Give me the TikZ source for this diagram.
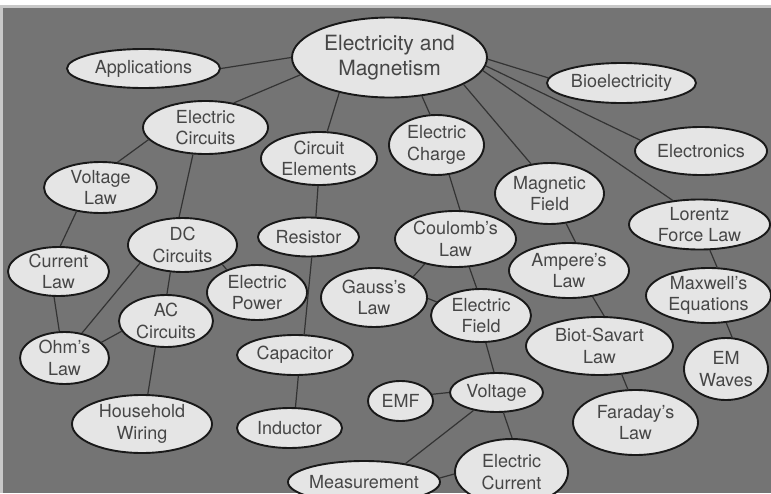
\documentclass[tikz,border=0pt]{standalone}
\usepackage{fontspec}
\setmainfont{TeX Gyre Heros}
\usetikzlibrary{shapes.geometric}
\definecolor{bgc}{HTML}{747474}
\definecolor{fillc}{HTML}{E5E5E5}
\definecolor{txtc}{HTML}{464646}
\definecolor{edgec}{HTML}{333333}
\definecolor{rimc}{HTML}{C8C8C8}
\newcommand\concept[6]{%
  \node[oval, minimum width=#4pt, minimum height=#5pt] (#1) at (#2,#3) {};
  \node[lbl] (#1-t) at (#1) {#6};}
\begin{document}
\begin{tikzpicture}[x=1pt,y=-1pt,
  oval/.style={ellipse, draw=black!90, line width=1.9pt, fill=fillc, inner sep=0pt},
  lbl/.style={text=txtc, align=center, inner sep=0pt, font=\fontsize{18}{21.5}\selectfont},
  titlelbl/.style={text=txtc, align=center, inner sep=0pt, font=\fontsize{21}{25.5}\selectfont},
  link/.style={draw=edgec, line width=1.2pt}]
\useasboundingbox (0,0) rectangle (771,493);
\clip (0,0) rectangle (771,493);
\fill[white] (0,0) rectangle (771,493);
\fill[rimc] (0,5) rectangle (771,493);
\fill[bgc] (3,7.5) rectangle (771,493);

\node[oval, minimum width=195pt, minimum height=80pt] (em) at (389.5,57.5) {};
\node[titlelbl] (em-t) at (em) {Electricity and\\Magnetism};
\concept{app}{143.5}{68.5}{153}{39}{Applications}
\concept{ec}{205.5}{127.5}{125}{53}{Electric\\Circuits}
\concept{ce}{319}{158.5}{116}{53}{Circuit\\Elements}
\concept{vl}{100.5}{187.5}{113}{51}{Voltage\\Law}
\concept{res}{308.5}{237}{101}{39}{Resistor}
\concept{dc}{182.5}{245}{109}{54}{DC\\Circuits}
\concept{bio}{621.5}{83}{149}{40}{Bioelectricity}
\concept{chg}{436.5}{145}{95}{60}{Electric\\Charge}
\concept{elx}{701}{151}{132}{48}{Electronics}
\concept{mf}{549.5}{193.5}{109}{61}{Magnetic\\Field}
\concept{lor}{699.5}{224.5}{141}{50}{Lorentz\\Force Law}
\concept{cou}{455.5}{239}{121}{56}{Coulomb's\\Law}
\concept{cl}{58.5}{271.5}{101}{49}{Current\\Law}
\concept{pow}{257}{292.5}{100}{55}{Electric\\Power}
\concept{gau}{374}{297.5}{106}{59}{Gauss's\\Law}
\concept{amp}{569}{270.5}{120}{55}{Ampere's\\Law}
\concept{max}{708.5}{295.5}{125}{55}{Maxwell's\\Equations}
\concept{ac}{166}{321}{94}{52}{AC\\Circuits}
\concept{ef}{481}{315.5}{100}{53}{Electric\\Field}
\concept{ohm}{64.5}{358}{89}{52}{Ohm's\\Law}
\concept{cap}{295}{355}{116}{40}{Capacitor}
\concept{bs}{599.5}{346}{147}{58}{Biot-Savart\\Law}
\concept{emw}{726}{369}{84}{62}{EM\\Waves}
\concept{emf}{400.5}{401}{65}{40}{EMF}
\concept{vol}{496.5}{392.5}{93}{39}{Voltage}
\concept{far}{635.5}{422.5}{125}{65}{Faraday's\\Law}
\concept{hw}{142}{424}{140}{58}{Household\\Wiring}
\concept{ind}{289.5}{428}{105}{40}{Inductor}
\concept{mea}{364}{482}{152}{42}{Measurement}
\concept{cur}{511.5}{472}{113}{66}{Electric\\Current}

\draw[link] (em.180) -- (app.0);
\draw[link] (em.191.7) -- (ec.41.7);
\draw[link] (em.215.2) -- (ce.73.2);
\draw[link] (em.310.3) -- (chg.102.2);
\draw[link] (em.340.6) -- (mf.122.3);
\draw[link] (em.359) -- (bio.176.9);
\draw[link] (em.355.6) -- (elx.170);
\draw[link] (em.352.5) -- (lor.138.6);
\draw[link] (ec.192) -- (vl.56.2);
\draw[link] (ec.245.3) -- (dc.97.5);
\draw[link] (ce.268.6) -- (res.70.8);
\draw[link] (chg.293.1) -- (cou.81.2);
\draw[link] (mf.299.4) -- (amp.77.7);
\draw[link] (lor.292.4) -- (max.73.2);
\draw[link] (max.303.2) -- (emw.79.1);
\draw[link] (amp.312.2) -- (bs.81.1);
\draw[link] (bs.308.7) -- (far.103.2);
\draw[link] (cou.219.5) -- (gau.28.3);
\draw[link] (cou.296.3) -- (ef.99.6);
\draw[link] (gau.359) -- (ef.163.3);
\draw[link] (ef.280.8) -- (vol.97.4);
\draw[link] (vol.180) -- (emf.12.3);
\draw[link] (vol.218.9) -- (mea.24);
\draw[link] (vol.289.8) -- (cur.89.7);
\draw[link] (mea.3.5) -- (cur.182);
\draw[link] (vl.225.3) -- (cl.86.3);
\draw[link] (cl.260.5) -- (ohm.101.2);
\draw[link] (dc.203.7) -- (ohm.55.1);
\draw[link] (dc.246.2) -- (ac.88.5);
\draw[link] (dc.334.1) -- (pow.143.1);
\draw[link] (ac.193.3) -- (ohm.23.1);
\draw[link] (ac.248.6) -- (hw.79.6);
\draw[link] (res.279.6) -- (cap.66.8);
\draw[link] (cap.279.4) -- (ind.74.4);
\end{tikzpicture}
\end{document}
